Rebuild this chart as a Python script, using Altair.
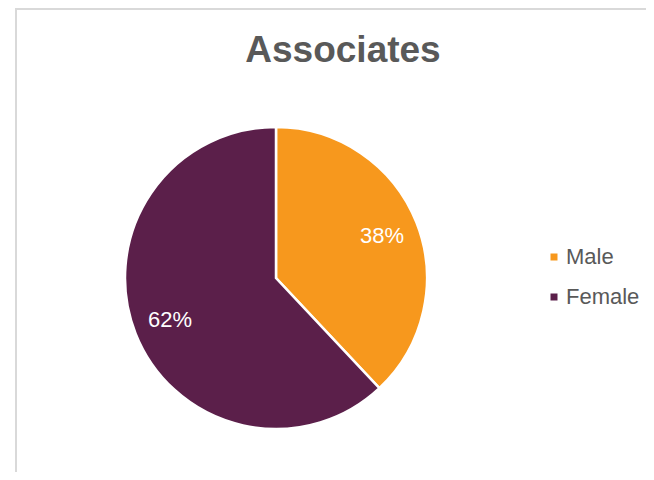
import altair as alt
import pandas as pd

categories = ["Male", "Female"]
shares = [38, 62]
labels = ["38%", "62%"]
colors = ["#F7981D", "#5B1F4A"]
title_text = "Associates"

FONT = "Liberation Sans, Arial, sans-serif"
W, H = 638, 464
CX, CY = 268, 270

df = pd.DataFrame({
    "category": categories,
    "share": shares,
    "label": labels,
    "order": list(range(len(categories))),
})

base = alt.Chart(df).encode(
    theta=alt.Theta("share:Q", stack=True),
    order=alt.Order("order:Q"),
    color=alt.Color(
        "category:N",
        scale=alt.Scale(domain=categories, range=colors),
        sort=categories,
        legend=alt.Legend(
            title=None,
            orient="none",
            legendX=535,
            legendY=238,
            symbolType="square",
            symbolSize=49,
            symbolStrokeWidth=0,
            labelFontSize=22,
            labelFont=FONT,
            labelColor="#595959",
            labelOffset=1,
            rowPadding=18,
            labelLimit=300,
            padding=0,
        ),
    ),
    x=alt.value(CX),
    y=alt.value(CY),
)

pie = base.mark_arc(outerRadius=151, stroke="white", strokeWidth=2.5)
text = base.mark_text(radius=114, fontSize=22, font=FONT, color="white").encode(
    text="label:N",
    color=alt.value("white"),
)

tdf = pd.DataFrame({"t": [title_text]})
title = alt.Chart(tdf).mark_text(
    fontSize=37, fontWeight="bold", font=FONT, color="#595959",
    baseline="alphabetic", align="center",
).encode(text="t:N", x=alt.value(335), y=alt.value(54))

left_border = alt.Chart(tdf).mark_rule(color="#D9D9D9", strokeWidth=2).encode(
    x=alt.value(8), y=alt.value(0), y2=alt.value(H)
)
top_border = alt.Chart(tdf).mark_rule(color="#D9D9D9", strokeWidth=2).encode(
    x=alt.value(7), x2=alt.value(W), y=alt.value(1)
)

chart = alt.layer(left_border, top_border, pie, text, title).properties(
    width=W, height=H,
    autosize=alt.AutoSizeParams(type="none"),
    padding=0,
).configure_view(stroke=None)

chart.save("out.html", embed_options={"renderer": "svg", "actions": False})
